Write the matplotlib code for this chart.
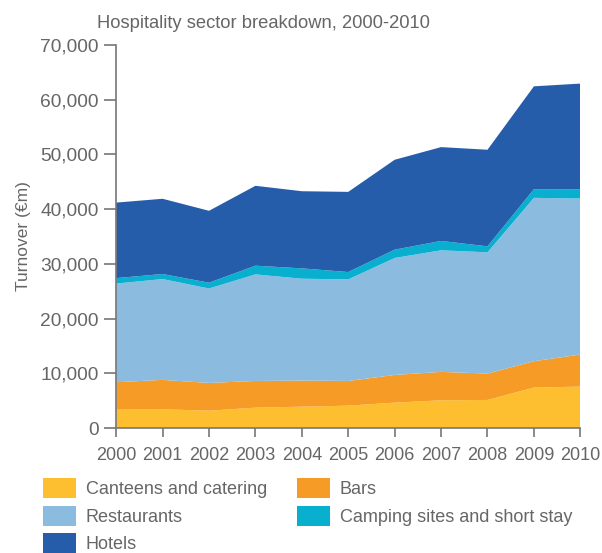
import matplotlib
matplotlib.use("Agg")
import matplotlib.pyplot as plt
from matplotlib.patches import Patch
from matplotlib.ticker import FuncFormatter

years = [2000, 2001, 2002, 2003, 2004, 2005, 2006, 2007, 2008, 2009, 2010]

# turnover by segment (EUR m), stacked bottom to top
canteens = [3350, 3420, 3170, 3720, 3900, 4090, 4640, 5070, 5130, 7390, 7570]
bars = [5020, 5380, 5070, 4880, 4770, 4510, 5060, 5190, 4820, 4820, 5860]
restaurants = [18030, 18430, 17260, 19480, 18620, 18570, 21380, 22220, 22160, 29860, 28510]
camping = [1000, 920, 1060, 1590, 1890, 1340, 1520, 1710, 1100, 1580, 1710]
hotels = [13800, 13750, 13140, 14600, 14100, 14650, 16430, 17150, 17650, 18800, 19300]

labels = ["Canteens and catering", "Bars", "Restaurants",
          "Camping sites and short stay", "Hotels"]
colors = ["#FDBF2F", "#F79B27", "#8BBCE0", "#08AFCF", "#265DAA"]

plt.rcParams["font.family"] = ["Liberation Sans", "DejaVu Sans"]
grey = "#666666"

fig = plt.figure(figsize=(6.02, 5.53), dpi=100)
ax = fig.add_axes([0.193, 0.226, 0.771, 0.6926])

ax.stackplot(years, canteens, bars, restaurants, camping, hotels,
             colors=colors, linewidth=0)

ax.set_xlim(2000, 2010)
ax.set_ylim(0, 70000)
ax.set_xticks(years)
ax.set_yticks(range(0, 70001, 10000))
ax.yaxis.set_major_formatter(FuncFormatter(lambda v, p: f"{int(v):,}"))

for side in ["top", "right"]:
    ax.spines[side].set_visible(False)
for side in ["left", "bottom"]:
    ax.spines[side].set_color("#777777")
    ax.spines[side].set_linewidth(1.2)

ax.tick_params(axis="y", direction="out", length=8.5, width=1.2, color="#777777",
               labelsize=13.8, labelcolor=grey, pad=4)
ax.tick_params(axis="x", direction="out", length=6.5, width=1.2, color="#777777",
               labelsize=13, labelcolor=grey, pad=7)

ax.set_ylabel("Turnover (€m)", fontsize=12.5, color=grey, labelpad=7)
fig.text(0.161, 0.958, "Hospitality sector breakdown, 2000-2010",
         fontsize=13.2, color=grey, ha="left", va="center")

order = [0, 2, 4, 1, 3]
handles = [Patch(facecolor=colors[i], edgecolor="none") for i in order]
fig.legend(handles, [labels[i] for i in order], ncol=2,
           loc="upper left", bbox_to_anchor=(0.0714, 0.135),
           frameon=False, fontsize=13, labelcolor=grey,
           handlelength=1.83, handleheight=1.33, handletextpad=0.55,
           columnspacing=1.65, labelspacing=0.4, borderaxespad=0,
           borderpad=0)

fig.savefig("out.png", dpi=100)
